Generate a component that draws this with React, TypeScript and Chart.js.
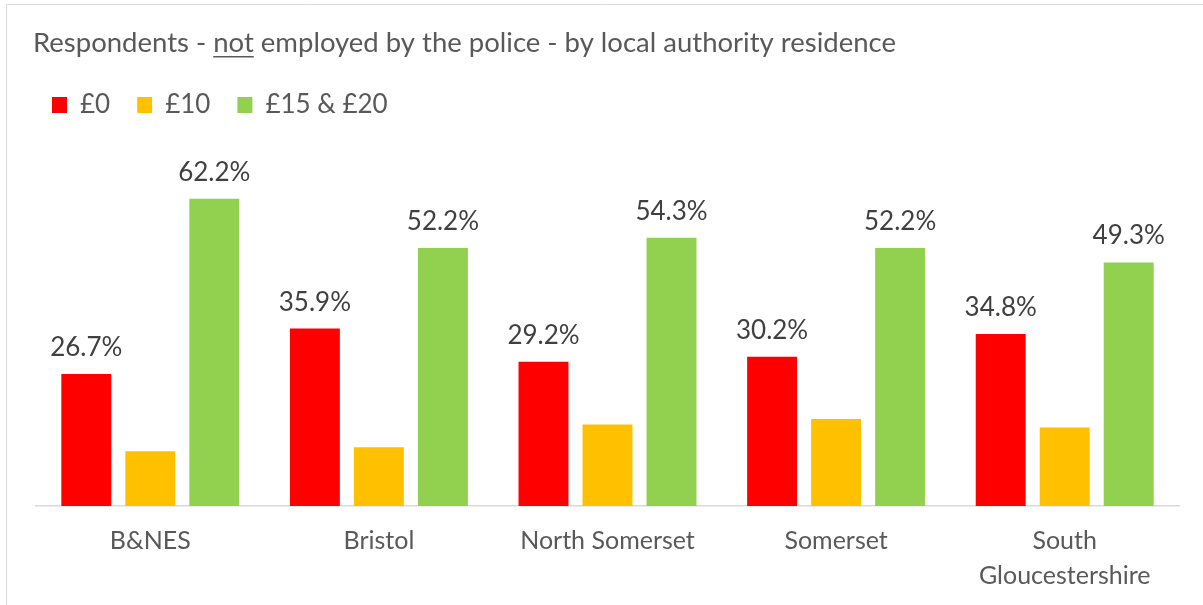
import React, { useEffect, useRef } from "react";
import { Chart, registerables } from "chart.js";

Chart.register(...registerables);

const categories: (string | string[])[] = ["B&NES", "Bristol", "North Somerset", "Somerset", ["South", "Gloucestershire"]];
const seriesLabels = ["£0", "£10", "£15 & £20"];
const valuesZero = [26.7, 35.9, 29.2, 30.2, 34.8];
const valuesTen = [11.1, 11.9, 16.5, 17.6, 15.9];
const valuesFifteenTwenty = [62.2, 52.2, 54.3, 52.2, 49.3];
const seriesColors = ["#FF0000", "#FFC000", "#92D050"];
const labelledSeries = [true, false, true];
const titleParts = ["Respondents - ", "not", " employed by the police - by local authority residence"];

const FONT = "Lato, 'Open Sans', sans-serif";
const TEXT = "#595959";

const decorPlugin = {
  id: "decor",
  beforeDraw(chart: any) {
    const ctx = chart.ctx;
    ctx.save();
    ctx.strokeStyle = "#d9d9d9";
    ctx.lineWidth = 1;
    ctx.beginPath();
    ctx.moveTo(6.5, 605);
    ctx.lineTo(6.5, 4.5);
    ctx.lineTo(1203, 4.5);
    ctx.stroke();
    ctx.font = `27.5px ${FONT}`;
    ctx.fillStyle = TEXT;
    ctx.textBaseline = "alphabetic";
    ctx.textAlign = "left";
    let x = 33;
    const y = 52;
    titleParts.forEach((p, i) => {
      const w = ctx.measureText(p).width;
      ctx.fillText(p, x, y);
      if (i === 1) {
        ctx.fillRect(x, y + 4, w, 1.5);
      }
      x += w;
    });
    ctx.restore();
  },
};

const labelPlugin = {
  id: "barLabels",
  afterDatasetsDraw(chart: any) {
    const ctx = chart.ctx;
    ctx.save();
    ctx.font = `26px ${FONT}`;
    ctx.fillStyle = "#404040";
    ctx.textAlign = "center";
    ctx.textBaseline = "alphabetic";
    chart.data.datasets.forEach((ds: any, i: number) => {
      if (!labelledSeries[i]) return;
      const meta = chart.getDatasetMeta(i);
      meta.data.forEach((el: any, j: number) => {
        ctx.fillText(ds.data[j].toFixed(1) + "%", el.x, el.y - 18);
      });
    });
    ctx.restore();
  },
};

export default function App() {
  const ref = useRef<HTMLCanvasElement>(null);
  useEffect(() => {
    if (!ref.current) return;
    const seriesValues = [valuesZero, valuesTen, valuesFifteenTwenty];
    const chart = new Chart(ref.current, {
      type: "bar",
      data: {
        labels: categories,
        datasets: seriesLabels.map((label, i) => ({
          label,
          data: seriesValues[i],
          backgroundColor: seriesColors[i],
          borderWidth: 0,
          categoryPercentage: 0.84,
          barPercentage: 0.78,
        })),
      },
      options: {
        responsive: false,
        animation: false,
        layout: { padding: { top: 65, left: 25, right: 24, bottom: 0 } },
        plugins: {
          legend: {
            position: "top",
            align: "start",
            labels: {
              boxWidth: 15,
              boxHeight: 16,
              padding: 27,
              color: TEXT,
              font: { family: FONT, size: 26 },
            },
          },
          tooltip: { enabled: false },
          title: { display: false },
        },
        scales: {
          x: {
            grid: { display: false },
            border: { color: "#d9d9d9", width: 1.5 },
            ticks: {
              color: TEXT,
              font: { family: FONT, size: 25, lineHeight: 1.38 },
              padding: 10,
              maxRotation: 0,
              autoSkip: false,
            },
            afterFit: (s: any) => {
              s.height = 99;
            },
          },
          y: {
            min: 0,
            max: 76.5,
            ticks: { display: false },
            grid: { display: false },
            border: { display: false },
            afterFit: (s: any) => {
              s.width = 11;
            },
          },
        },
      },
      plugins: [decorPlugin, labelPlugin],
    });
    return () => chart.destroy();
  }, []);
  return (
    <div style={{ position: "absolute", left: 0, top: 0, width: 1203, height: 605, background: "#fff" }}>
      <canvas ref={ref} width={1203} height={605} />
    </div>
  );
}
